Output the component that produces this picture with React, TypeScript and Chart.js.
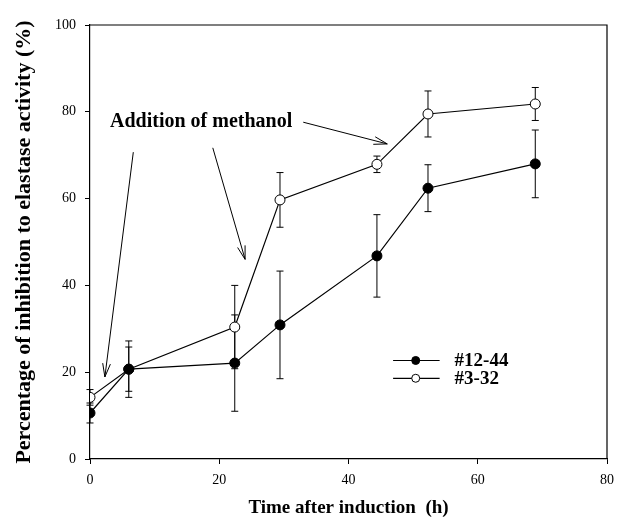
import React, { useEffect, useRef } from 'react';
import { Chart, registerables } from 'chart.js';

Chart.register(...registerables);

// Time after induction (h)
const timesA = [0, 6, 22.4, 29.4, 44.4, 52.3, 68.9];
const valuesA = [10.6, 20.7, 22.1, 30.9, 46.8, 62.4, 68.0];
const errorsA = [2.3, 6.5, 11.1, 12.4, 9.5, 5.4, 7.8];

const timesB = [0, 6, 22.4, 29.4, 44.4, 52.3, 68.9];
const valuesB = [14.2, 20.7, 30.4, 59.7, 67.9, 79.5, 81.8];
const errorsB = [1.8, 5.1, 9.6, 6.3, 1.9, 5.3, 3.8];

const seriesLabels = ['#12-44', '#3-32'];
const xTicks = [0, 20, 40, 60, 80];
const yTicks = [0, 20, 40, 60, 80, 100];

const xTitle = 'Time after induction  (h)';
const yTitle = 'Percentage of inhibition to elastase activity (%)';

// annotation (in data units)
const annotationText = 'Addition of methanol';
const annotationTextX = 17.2;
const annotationTextY = 77.6;
const arrowStartX = [6.7, 19.0, 33.0];
const arrowStartY = [70.7, 71.7, 77.6];
const arrowEndX = [2.3, 24.0, 46.0];
const arrowEndY = [18.9, 46.0, 72.6];

const SERIF = '"Liberation Serif", "Times New Roman", serif';

const errorBarPlugin = {
  id: 'errorBars',
  beforeDatasetsDraw(chart: any) {
    const { ctx, scales } = chart;
    const xs = scales.x;
    const ys = scales.y;
    const groups = [
      { t: timesA, v: valuesA, e: errorsA },
      { t: timesB, v: valuesB, e: errorsB },
    ];
    ctx.save();
    ctx.strokeStyle = '#000';
    ctx.lineWidth = 1;
    groups.forEach((g) => {
      g.t.forEach((t, i) => {
        const px = xs.getPixelForValue(t);
        const top = ys.getPixelForValue(g.v[i] + g.e[i]);
        const bot = ys.getPixelForValue(g.v[i] - g.e[i]);
        ctx.beginPath();
        ctx.moveTo(px, top);
        ctx.lineTo(px, bot);
        ctx.moveTo(px - 3.5, top);
        ctx.lineTo(px + 3.5, top);
        ctx.moveTo(px - 3.5, bot);
        ctx.lineTo(px + 3.5, bot);
        ctx.stroke();
      });
    });
    ctx.restore();
  },
};

const decorPlugin = {
  id: 'decor',
  afterDraw(chart: any) {
    const { ctx, chartArea, scales } = chart;
    const xs = scales.x;
    const ys = scales.y;
    ctx.save();
    // top and right frame
    ctx.strokeStyle = '#000';
    ctx.lineWidth = 1.2;
    ctx.beginPath();
    ctx.moveTo(chartArea.left, chartArea.top);
    ctx.lineTo(chartArea.right, chartArea.top);
    ctx.lineTo(chartArea.right, chartArea.bottom);
    ctx.stroke();

    // annotation text
    ctx.fillStyle = '#000';
    ctx.font = `bold 20px ${SERIF}`;
    ctx.textAlign = 'center';
    ctx.textBaseline = 'middle';
    ctx.fillText(annotationText, xs.getPixelForValue(annotationTextX), ys.getPixelForValue(annotationTextY));

    // arrows
    ctx.lineWidth = 1;
    arrowStartX.forEach((_, i) => {
      const x1 = xs.getPixelForValue(arrowStartX[i]);
      const y1 = ys.getPixelForValue(arrowStartY[i]);
      const x2 = xs.getPixelForValue(arrowEndX[i]);
      const y2 = ys.getPixelForValue(arrowEndY[i]);
      const ang = Math.atan2(y2 - y1, x2 - x1);
      const len = 14;
      const spread = 0.28;
      ctx.beginPath();
      ctx.moveTo(x1, y1);
      ctx.lineTo(x2, y2);
      ctx.moveTo(x2, y2);
      ctx.lineTo(x2 - len * Math.cos(ang - spread), y2 - len * Math.sin(ang - spread));
      ctx.moveTo(x2, y2);
      ctx.lineTo(x2 - len * Math.cos(ang + spread), y2 - len * Math.sin(ang + spread));
      ctx.stroke();
    });

    // legend
    const lx1 = xs.getPixelForValue(46.9);
    const lx2 = xs.getPixelForValue(54.1);
    const lm = xs.getPixelForValue(50.4);
    const rows = [ys.getPixelForValue(22.7), ys.getPixelForValue(18.6)];
    ctx.font = `bold 19px ${SERIF}`;
    ctx.textAlign = 'left';
    rows.forEach((ry, i) => {
      ctx.strokeStyle = '#000';
      ctx.lineWidth = 1.2;
      ctx.beginPath();
      ctx.moveTo(lx1, ry);
      ctx.lineTo(lx2, ry);
      ctx.stroke();
      ctx.beginPath();
      ctx.arc(lm, ry, 4, 0, Math.PI * 2);
      ctx.fillStyle = i === 0 ? '#000' : '#fff';
      ctx.fill();
      ctx.lineWidth = 1;
      ctx.stroke();
      ctx.fillStyle = '#000';
      ctx.fillText(seriesLabels[i], lx2 + 15, ry + 1);
    });
    ctx.restore();
  },
};

export default function App() {
  const canvasRef = useRef<HTMLCanvasElement | null>(null);

  useEffect(() => {
    if (!canvasRef.current) return;
    const tickFont = { family: SERIF, size: 14 };
    const chart = new Chart(canvasRef.current, {
      type: 'line',
      data: {
        datasets: [
          {
            label: seriesLabels[0],
            data: timesA.map((t, i) => ({ x: t, y: valuesA[i] })),
            borderColor: '#000',
            borderWidth: 1.2,
            pointRadius: 5,
            pointBackgroundColor: '#000',
            pointBorderColor: '#000',
            pointBorderWidth: 1,
            tension: 0,
          },
          {
            label: seriesLabels[1],
            data: timesB.map((t, i) => ({ x: t, y: valuesB[i] })),
            borderColor: '#000',
            borderWidth: 1.2,
            pointRadius: 5,
            pointBackgroundColor: '#fff',
            pointBorderColor: '#000',
            pointBorderWidth: 1,
            tension: 0,
          },
        ],
      },
      options: {
        responsive: false,
        animation: false,
        layout: { padding: { top: 25, right: 10, left: 0, bottom: 0 } },
        plugins: { legend: { display: false }, tooltip: { enabled: false } },
        scales: {
          x: {
            type: 'linear',
            min: 0,
            max: 80,
            afterBuildTicks: (s: any) => {
              s.ticks = xTicks.map((v) => ({ value: v }));
            },
            ticks: { color: '#000', font: tickFont, padding: 8, maxRotation: 0 },
            grid: { drawOnChartArea: false, drawTicks: true, tickLength: 5, color: '#000' },
            border: { color: '#000', width: 1.2 },
            title: {
              display: true,
              text: xTitle,
              color: '#000',
              font: { family: SERIF, size: 19, weight: 'bold' },
              padding: { top: 0, bottom: 2 },
            },
            afterFit: (s: any) => {
              s.height = 62;
              s.paddingLeft = 0;
              s.paddingRight = 0;
            },
          },
          y: {
            type: 'linear',
            min: 0,
            max: 100,
            afterBuildTicks: (s: any) => {
              s.ticks = yTicks.map((v) => ({ value: v }));
            },
            ticks: { color: '#000', font: tickFont, padding: 9 },
            grid: { drawOnChartArea: false, drawTicks: true, tickLength: 5, color: '#000' },
            border: { color: '#000', width: 1.2 },
            title: {
              display: true,
              text: yTitle,
              color: '#000',
              font: { family: SERIF, size: 22, weight: 'bold' },
              padding: { top: 11, bottom: 0 },
            },
            afterFit: (s: any) => {
              s.width = 90;
              s.paddingTop = 0;
              s.paddingBottom = 0;
            },
          },
        },
      },
      plugins: [errorBarPlugin, decorPlugin],
    } as any);
    return () => chart.destroy();
  }, []);

  return (
    <div style={{ position: 'fixed', left: 0, top: 0, width: 617, height: 521, background: '#fff' }}>
      <canvas ref={canvasRef} width={617} height={521} style={{ width: 617, height: 521, display: 'block' }} />
    </div>
  );
}
